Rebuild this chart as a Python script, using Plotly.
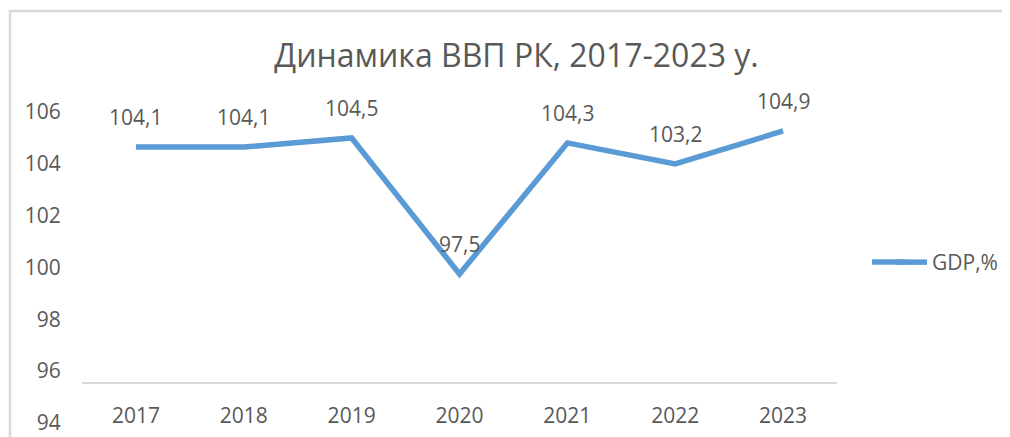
import plotly.graph_objects as go

# ---- data ----
years = ["2017", "2018", "2019", "2020", "2021", "2022", "2023"]
# plotted line values (as drawn in the reference)
gdp_line = [104.63, 104.63, 104.98, 99.74, 104.79, 103.98, 105.25]
# data labels shown in the reference
gdp_labels = [104.1, 104.1, 104.5, 97.5, 104.3, 103.2, 104.9]
y_ticks = [94, 96, 98, 100, 102, 104, 106]
series_name = "GDP,%"
title_text = "Динамика ВВП РК, 2017-2023 у."

# page has an 8px body margin; compensate so the picture lands where the reference is
OFF = 8
W, H = 1010 - OFF, 437 - OFF
def px(v):
    return v - OFF

L, R, T, B = px(82), 1010 - 837, px(100), 0
TEXT = "#595959"
LINE = "#5b9bd5"
FONT = "Open Sans"
LW = 5.5

fig = go.Figure()
fig.add_trace(go.Scatter(
    x=list(range(len(years))), y=gdp_line, mode="lines", name=series_name,
    line=dict(color=LINE, width=LW), hoverinfo="skip",
))

for i, (y, lab) in enumerate(zip(gdp_line, gdp_labels)):
    fig.add_annotation(
        x=i, y=y, xref="x", yref="y", yshift=30,
        text=f"{lab:.1f}".replace(".", ","),
        showarrow=False, font=dict(family=FONT, size=21, color=TEXT),
    )

plot_h = H - T - B
plot_w = W - L - R
axis_px = px(383)
xpos = (H - B - axis_px) / plot_h

# y range: 106 at px 111.5, 94 at px 423
unit = (423 - 111.5) / 12.0
y_top = 106 + (111.5 - 100) / unit
y_bot = 94 - (437 - 423) / unit

legend_y = (H - B - px(262.5)) / plot_h

fig.update_layout(
    width=W, height=H,
    margin=dict(l=L, r=R, t=T, b=B),
    paper_bgcolor="white", plot_bgcolor="white",
    title=dict(text=title_text, x=px(516.5) / W, xanchor="center", xref="container",
               y=1 - px(56) / H, yanchor="middle", yref="container",
               font=dict(family=FONT, size=32, color=TEXT)),
    xaxis=dict(
        range=[-0.5, 6.5], anchor="free", position=xpos,
        tickvals=list(range(len(years))), ticktext=years,
        showgrid=False, zeroline=False, showline=True, linecolor="#d9d9d9", linewidth=2,
        ticks="outside", ticklen=14, tickcolor="rgba(0,0,0,0)",
        tickfont=dict(family=FONT, size=21, color=TEXT),
    ),
    yaxis=dict(
        range=[y_bot, y_top], tickvals=y_ticks, showgrid=False, zeroline=False,
        showline=False, ticks="outside", ticklen=16, tickcolor="rgba(0,0,0,0)",
        tickfont=dict(family=FONT, size=21, color=TEXT),
    ),
    showlegend=True,
    legend=dict(x=(px(892) - L) / plot_w, xanchor="left", y=legend_y,
                yanchor="middle", font=dict(family=FONT, size=21, color=TEXT),
                bgcolor="rgba(0,0,0,0)"),
    shapes=[
        dict(type="rect", xref="paper", yref="paper",
             x0=(px(10) - L) / plot_w, x1=(px(1030) - L) / plot_w,
             y0=-20 / plot_h, y1=(H - B - px(11)) / plot_h,
             line=dict(color="#d9d9d9", width=2.5), fillcolor="rgba(0,0,0,0)",
             layer="below"),
        # longer legend key, as in the reference
        dict(type="line", xref="paper", yref="paper",
             x0=(px(872) - L) / plot_w, x1=(px(905) - L) / plot_w,
             y0=(H - B - px(262)) / plot_h, y1=(H - B - px(262)) / plot_h,
             line=dict(color=LINE, width=LW)),
    ],
)

fig.write_html("out.html")
